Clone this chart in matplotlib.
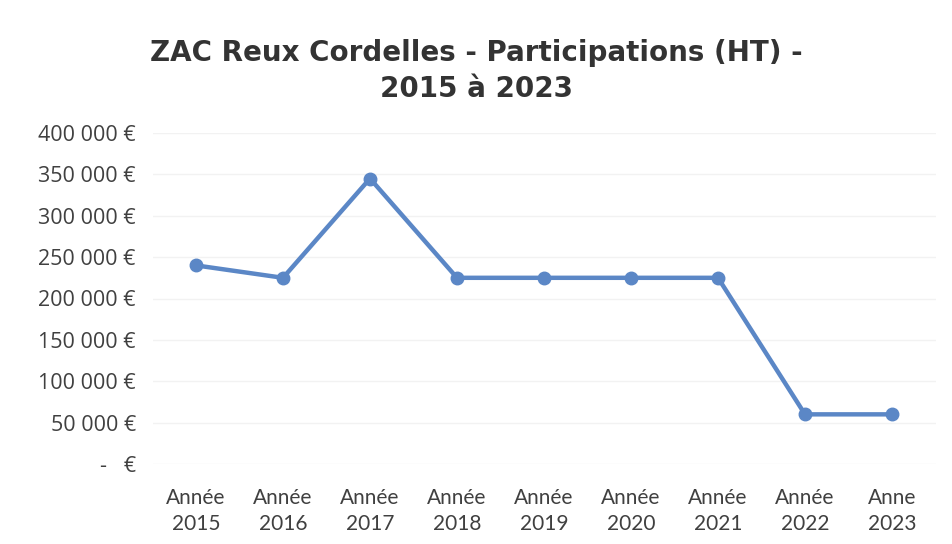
import matplotlib.pyplot as plt
from matplotlib.ticker import FuncFormatter

plt.rcParams['font.family'] = ['Lato', 'DejaVu Sans']

annees = ["Année\n2015", "Année\n2016", "Année\n2017", "Année\n2018", "Année\n2019",
          "Année\n2020", "Année\n2021", "Année\n2022", "Anne\n2023"]
participations = [240000, 225000, 345000, 225000, 225000, 225000, 225000, 60000, 60000]
y_ticks = [0, 50000, 100000, 150000, 200000, 250000, 300000, 350000, 400000]


def euro(v, pos):
    if v == 0:
        return "-   €"
    return "{:,.0f} €".format(v).replace(",", " ")


fig = plt.figure(figsize=(9.52, 5.44), dpi=100)
ax = fig.add_axes([152.5 / 952, 1 - 464 / 544, 783 / 952, 331 / 544])

x = range(len(annees))
ax.plot(x, participations, color="#5b87c6", linewidth=3.2, marker="o",
        markersize=9, solid_capstyle="round", zorder=3)

ax.set_xlim(-0.5, len(annees) - 0.5)
ax.set_ylim(0, 400000)
ax.set_yticks(y_ticks)
ax.yaxis.set_major_formatter(FuncFormatter(euro))
ax.set_xticks(list(x))
ax.set_xticklabels(annees)
ax.grid(axis="y", color="#f2f2f2", linewidth=1)
for s in ax.spines.values():
    s.set_visible(False)
ax.tick_params(length=0, colors="#404040")
ax.tick_params(axis="y", pad=12)
ax.tick_params(axis="x", pad=17)
for lbl in ax.get_yticklabels():
    lbl.set_fontfamily(["Open Sans", "DejaVu Sans"])
    lbl.set_fontsize(15.5)
for lbl in ax.get_xticklabels():
    lbl.set_fontsize(15)
    lbl.set_linespacing(1.38)

fig.text(0.5, 1 - 71 / 544, "ZAC Reux Cordelles - Participations (HT) -\n2015 à 2023",
         ha="center", va="center", fontsize=20, fontweight="bold",
         family=["DejaVu Sans"], color="#333333", linespacing=1.32)

fig.savefig("out.png", dpi=100, facecolor="white")
